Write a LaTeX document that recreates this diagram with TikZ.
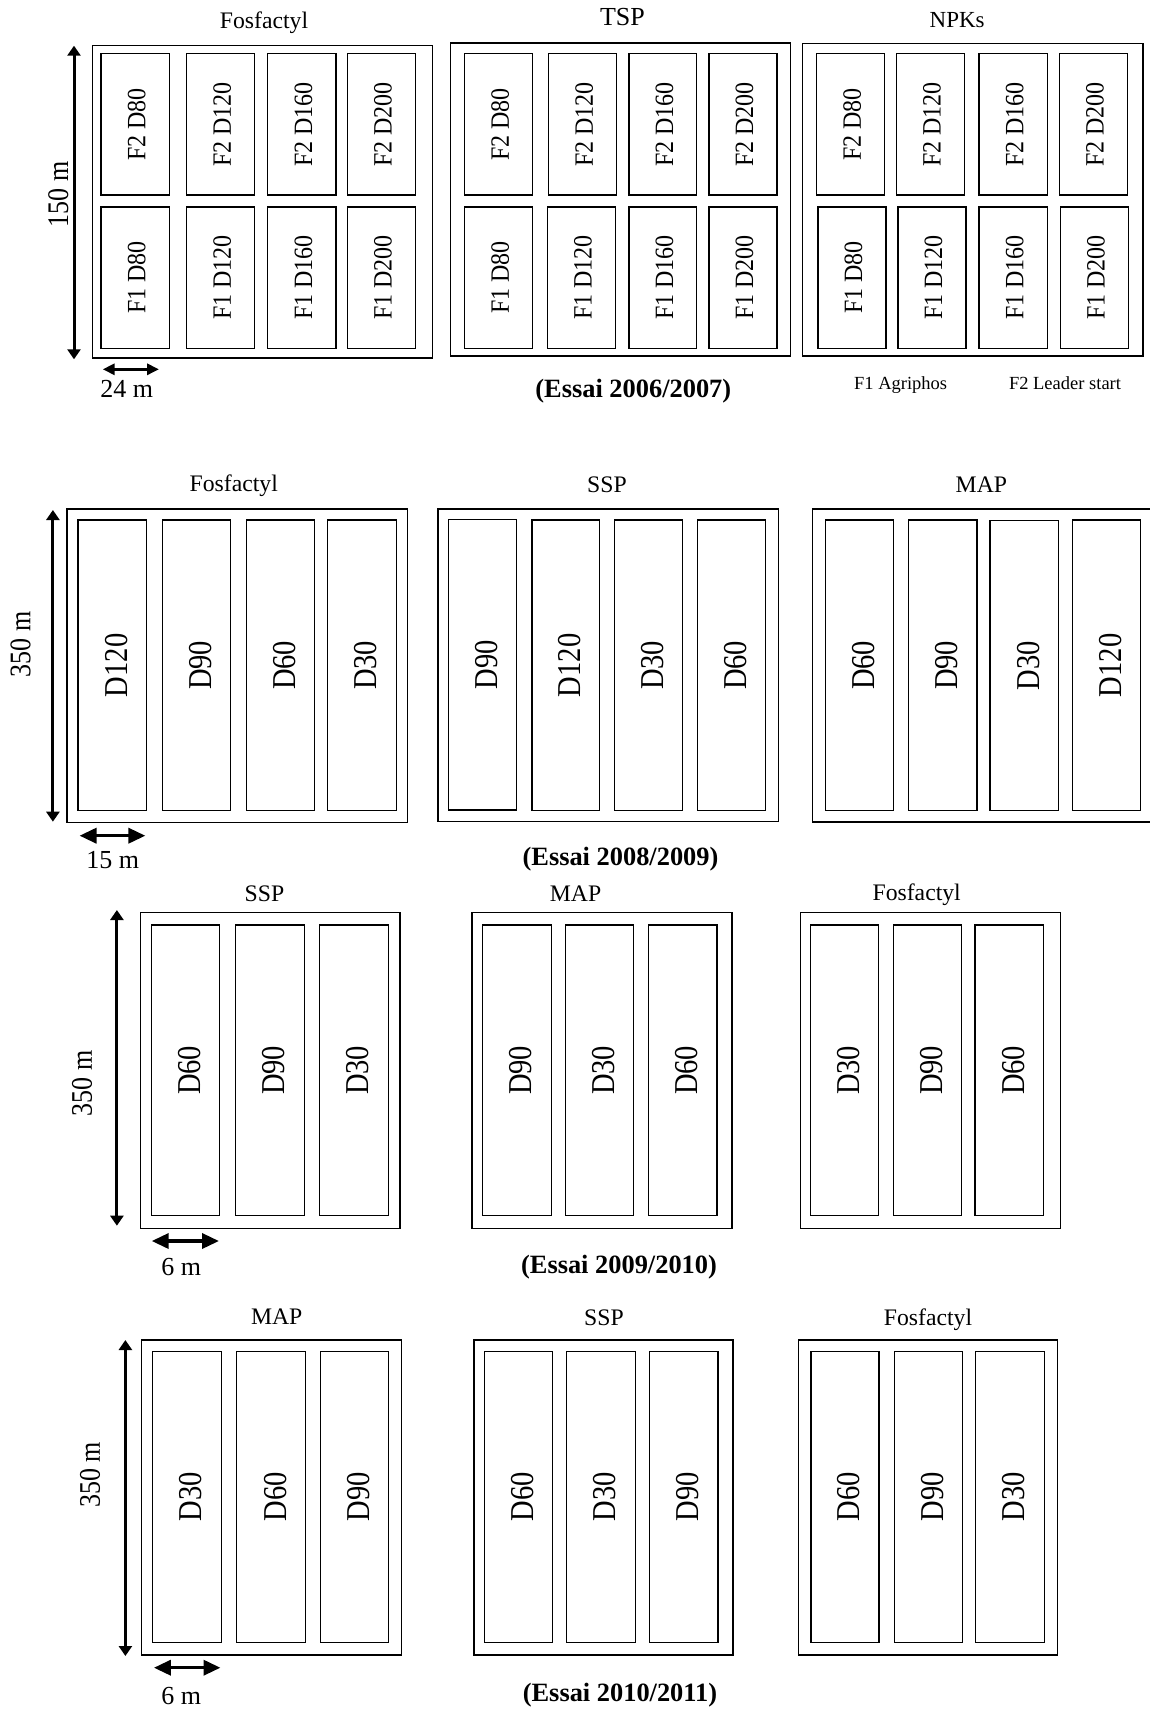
\documentclass[tikz,border=0pt]{standalone}
\usepackage{fontspec}
\setmainfont{Liberation Serif}
\usetikzlibrary{arrows.meta}
\tikzset{
  frame/.style={draw=black, line width=1.2pt},
  cell/.style={draw=black, line width=1.2pt},
  celltextA/.style={rotate=90, inner sep=0pt, font=\fontsize{24}{28}\selectfont},
  celltextB/.style={rotate=90, inner sep=0pt, font=\fontsize{28.5}{32}\selectfont},
  title/.style={anchor=base, inner sep=0pt, font=\fontsize{23.7}{28}\selectfont},
  essai/.style={anchor=base, inner sep=0pt, font=\fontsize{26.4}{30}\selectfont\bfseries},
  legend/.style={anchor=base, inner sep=0pt, font=\fontsize{18.5}{22}\selectfont},
  dimlabel/.style={anchor=base, inner sep=0pt, font=\fontsize{26}{30}\selectfont},
  vlabel/.style={rotate=90, inner sep=0pt, font=\fontsize{26}{30}\selectfont},
  varrow/.style={line width=3pt, {Triangle[length=10pt,width=13pt]}-{Triangle[length=10pt,width=13pt]}},
  harrowA/.style={line width=3pt, {Triangle[length=12pt,width=11pt]}-{Triangle[length=12pt,width=11pt]}},
  harrowB/.style={line width=3.5pt, {Triangle[length=17pt,width=15pt]}-{Triangle[length=17pt,width=15pt]}},
}
\newcommand{\cellA}[6]{\draw[cell] (#2,#4) rectangle (#3,#5);
  \node[celltextA] (#1) at ({(#2+#3)/2+1.5},{(#4+#5)/2}) {\scalebox{1}[1.1]{#6}};}
\newcommand{\cellB}[6]{\draw[cell] (#2,#4) rectangle (#3,#5);
  \node[celltextB] (#1) at ({(#2+#3)/2+4},{(#4+#5)/2}) {\scalebox{1}[1.17]{#6}};}
\begin{document}
\begin{tikzpicture}[x=1pt,y=-1pt]
\useasboundingbox[fill=white] (0,0) rectangle (1150,1710);

% ================= Section 1 (2006/2007) =================
\draw[frame] (92.3,45.7) rectangle (432.3,358);
\draw[frame] (450.4,43) rectangle (790.1,356);
\draw[frame] (802.3,43.3) rectangle (1142.9,356);
\node[title] (t1a) at (264,28.3) {Fosfactyl};
\node[title,font=\fontsize{26}{30}\selectfont] (t1b) at (622.5,26) {TSP};
\node[title,font=\fontsize{23}{28}\selectfont] (t1c) at (957.2,27.7) {NPKs};

\cellA{a11}{101}{169.3}{53.7}{195}{F2 D80}
\cellA{a12}{186.7}{254.7}{53.7}{195}{F2 D120}
\cellA{a13}{267.7}{336}{53.7}{195}{F2 D160}
\cellA{a14}{347.3}{415.7}{53.7}{195}{F2 D200}
\cellA{a21}{101}{169.3}{207}{348.3}{F1 D80}
\cellA{a22}{186.7}{254.7}{207}{348.3}{F1 D120}
\cellA{a23}{267.7}{336}{207}{348.3}{F1 D160}
\cellA{a24}{347.3}{415.7}{207}{348.3}{F1 D200}

\cellA{b11}{464.5}{532.8}{53.7}{195}{F2 D80}
\cellA{b12}{548.7}{616.6}{53.7}{195}{F2 D120}
\cellA{b13}{628.9}{696.8}{53.7}{195}{F2 D160}
\cellA{b14}{709}{777}{53.7}{195}{F2 D200}
\cellA{b21}{464.5}{532.8}{207}{348.3}{F1 D80}
\cellA{b22}{547.5}{615.5}{207}{348.3}{F1 D120}
\cellA{b23}{628.9}{696.8}{207}{348.3}{F1 D160}
\cellA{b24}{709}{777}{207}{348.3}{F1 D200}

\cellA{c11}{816.8}{884.7}{53.7}{195}{F2 D80}
\cellA{c12}{896.5}{964.5}{53.7}{195}{F2 D120}
\cellA{c13}{979}{1047.3}{53.7}{195}{F2 D160}
\cellA{c14}{1059.6}{1127.5}{53.7}{195}{F2 D200}
\cellA{c21}{818}{886}{207}{348.3}{F1 D80}
\cellA{c22}{898}{966}{207}{348.3}{F1 D120}
\cellA{c23}{979}{1047.3}{207}{348.3}{F1 D160}
\cellA{c24}{1060.5}{1128.5}{207}{348.3}{F1 D200}

\coordinate (v1a) at (74,45.7); \coordinate (v1b) at (74,359.3);
\draw[varrow] (v1a) -- (v1b);
\node[vlabel] (l150) at (58.3,194.2) {\scalebox{1}[1.15]{150 m}};
\coordinate (h1a) at (102.7,369.3); \coordinate (h1b) at (159,369.3);
\draw[harrowA] (h1a) -- (h1b);
\node[dimlabel] (l24) at (126.7,397.7) {24 m};
\node[essai] (e1) at (633.3,397) {(Essai 2006/2007)};
\node[legend] (f1) at (900.6,389.3) {F1 Agriphos};
\node[legend] (f2) at (1065,389.3) {F2 Leader start};

% ================= Section 2 (2008/2009) =================
\draw[frame] (67,509) rectangle (407.7,822.3);
\draw[frame] (438,509) rectangle (778.2,821.7);
\draw[frame] (812.8,509) rectangle (1153,822);
\node[title] (t2a) at (233.8,491.7) {Fosfactyl};
\node[title] (t2b) at (607,492.3) {SSP};
\node[title] (t2c) at (981.4,492.7) {MAP};

\cellB{d1}{78}{146.5}{520}{810.7}{D120}
\cellB{d2}{162.4}{230.5}{520}{810.7}{D90}
\cellB{d3}{246.4}{314.8}{520}{810.7}{D60}
\cellB{d4}{327.8}{396.2}{520}{810.7}{D30}

\cellB{e1c}{448.8}{516.8}{519.3}{810}{D90}
\cellB{e2c}{532}{599.5}{520}{810.7}{D120}
\cellB{e3c}{614.6}{682.6}{520}{810.7}{D30}
\cellB{e4c}{697.3}{765.8}{520}{810.7}{D60}

\cellB{g1}{825.6}{893.7}{520}{810.7}{D60}
\cellB{g2}{908.4}{976.9}{520}{810.7}{D90}
\cellB{g3}{990}{1058.5}{520.7}{810.7}{D30}
\cellB{g4}{1072.4}{1140.5}{520}{810.7}{D120}

\coordinate (v2a) at (52.9,510); \coordinate (v2b) at (52.9,821.7);
\draw[varrow] (v2a) -- (v2b);
\node[vlabel] (l350a) at (20.7,644.2) {\scalebox{1}[1.15]{350 m}};
\coordinate (h2a) at (79.5,835.7); \coordinate (h2b) at (145.4,835.7);
\draw[harrowB] (h2a) -- (h2b);
\node[dimlabel] (l15) at (112.8,868.3) {15 m};
\node[essai] (e2) at (620.5,865) {(Essai 2008/2009)};

% ================= Section 3 (2009/2010) =================
\draw[frame] (140.6,912.7) rectangle (400,1228.3);
\draw[frame] (472,912.7) rectangle (732,1228.3);
\draw[frame] (800.8,912.3) rectangle (1060.4,1228.3);
\node[title] (t3a) at (264.5,901.7) {SSP};
\node[title] (t3b) at (575.6,901) {MAP};
\node[title] (t3c) at (916.7,900.7) {Fosfactyl};

\cellB{h1}{151.3}{219.8}{925}{1215.7}{D60}
\cellB{h2}{235.7}{304.1}{925}{1215.7}{D90}
\cellB{h3}{319.6}{388.1}{925}{1215.7}{D30}

\cellB{i1}{482.8}{551.2}{925}{1215.7}{D90}
\cellB{i2}{565.3}{633.4}{925}{1215.7}{D30}
\cellB{i3}{648.4}{716.9}{925}{1215.7}{D60}

\cellB{j1}{810.2}{878.3}{925}{1215.7}{D30}
\cellB{j2}{893.3}{961.4}{925}{1215.7}{D90}
\cellB{j3}{975}{1043.5}{925}{1215.7}{D60}

\coordinate (v3a) at (116.9,910); \coordinate (v3b) at (116.9,1225.7);
\draw[varrow] (v3a) -- (v3b);
\node[vlabel] (l350b) at (82,1083.3) {\scalebox{1}[1.15]{350 m}};
\coordinate (h3a) at (151.7,1241); \coordinate (h3b) at (219,1241);
\draw[harrowB] (h3a) -- (h3b);
\node[dimlabel] (l6a) at (181.3,1275) {6 m};
\node[essai] (e3) at (619,1273.3) {(Essai 2009/2010)};

% ================= Section 4 (2010/2011) =================
\draw[frame] (141.7,1340) rectangle (401.4,1655);
\draw[frame] (474,1340) rectangle (733,1655);
\draw[frame] (798.1,1340) rectangle (1057.4,1655);
\node[title] (t4a) at (276.7,1324.3) {MAP};
\node[title] (t4b) at (604,1325.7) {SSP};
\node[title] (t4c) at (928,1325) {Fosfactyl};

\cellB{k1}{152.8}{221.2}{1351.7}{1642.3}{D30}
\cellB{k2}{236.8}{305.6}{1351.7}{1642.3}{D60}
\cellB{k3}{320.4}{388.8}{1351.7}{1642.3}{D90}

\cellB{m1}{484.3}{552.4}{1351.7}{1642.3}{D60}
\cellB{m2}{566.8}{635.2}{1351.7}{1642.3}{D30}
\cellB{m3}{649.5}{718}{1351.7}{1642.3}{D90}

\cellB{n1}{811}{879}{1351.7}{1642.3}{D60}
\cellB{n2}{894.5}{962.6}{1351.7}{1642.3}{D90}
\cellB{n3}{975.7}{1044.2}{1351.7}{1642.3}{D30}

\coordinate (v4a) at (125.4,1340); \coordinate (v4b) at (125.4,1656);
\draw[varrow] (v4a) -- (v4b);
\node[vlabel] (l350c) at (90,1475) {\scalebox{1}[1.15]{350 m}};
\coordinate (h4a) at (153.9,1667.7); \coordinate (h4b) at (220.5,1667.7);
\draw[harrowB] (h4a) -- (h4b);
\node[dimlabel] (l6b) at (181.3,1704) {6 m};
\node[essai] (e4) at (620,1701.7) {(Essai 2010/2011)};
\end{tikzpicture}
\end{document}
